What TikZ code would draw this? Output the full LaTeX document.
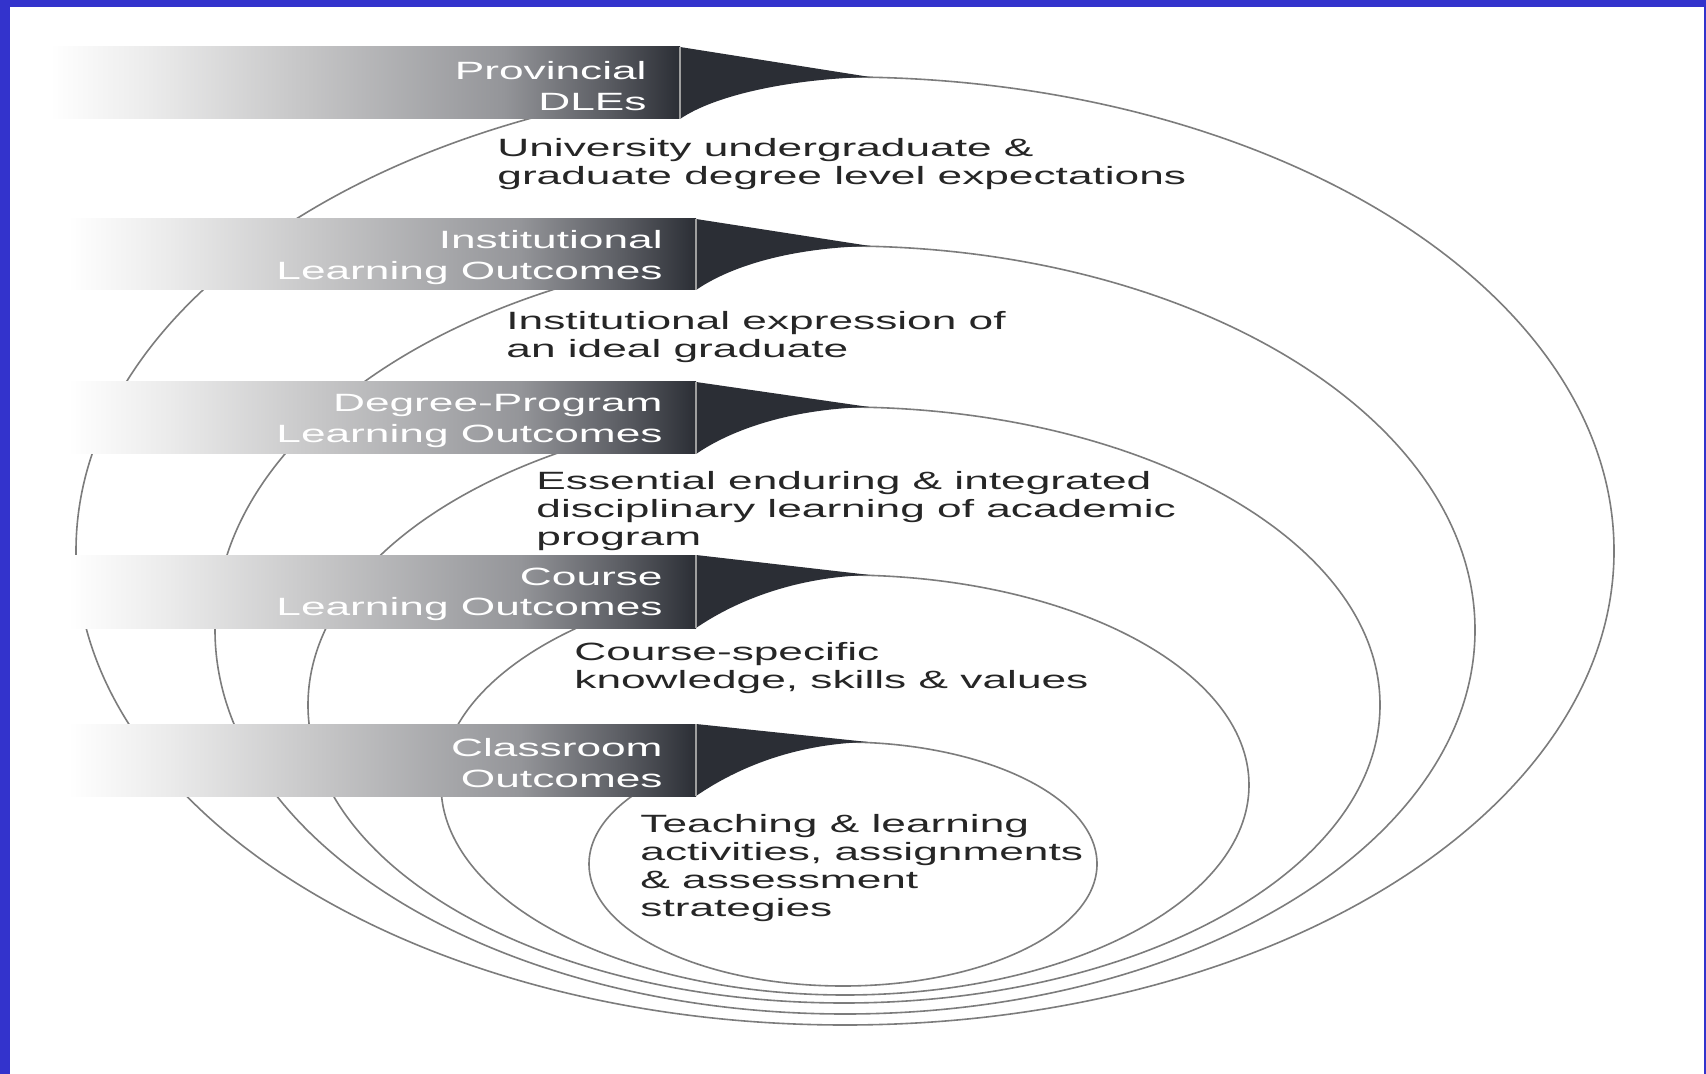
\documentclass[tikz,border=0pt]{standalone}
\usepackage{fontspec}
\usepackage{tikz}

\newfontfamily\widesans{Liberation Sans}[FakeStretch=1.77]
\definecolor{framecol}{HTML}{3333CC}
\definecolor{ringcol}{HTML}{7C7C7C}
\definecolor{notecol}{HTML}{262626}
\definecolor{fadeA}{HTML}{EBEBEB}
\definecolor{fadeB}{HTML}{C6C6C7}
\definecolor{fadeC}{HTML}{949599}
\definecolor{fadeD}{HTML}{5C5E64}
\definecolor{bannerdark}{HTML}{2B2E35}
\pgfdeclarehorizontalshading{bannerfade}{100bp}{color(0bp)=(white); color(25bp)=(white);
  color(33bp)=(fadeA); color(45bp)=(fadeB); color(61bp)=(fadeC); color(69bp)=(fadeD);
  color(75bp)=(bannerdark); color(100bp)=(bannerdark)}

\begin{document}
\begin{tikzpicture}[x=0.5pt,y=-0.5pt,
    ring/.style={draw=ringcol,line width=0.8pt},
    banner/.style={shade,shading=bannerfade,inner sep=0pt,outer sep=0pt,anchor=north west},
    tail/.style={fill=bannerdark},
    divider/.style={draw=gray!75,line width=0.7pt},
    bannertext/.style={anchor=east,align=right,inner sep=0pt,text=white,
      font=\widesans\fontsize{12.5}{15.3}\selectfont},
    note/.style={anchor=north west,align=left,inner sep=0pt,text=notecol,
      font=\widesans\fontsize{12.5}{14}\selectfont}]
  \useasboundingbox (0,0) rectangle (1706,1074);
  % frame
  \fill[framecol] (0,0) rectangle (1706,1074);
  \fill[white] (10,7) rectangle (1704,1074);

  % nested rings, outermost first
  \foreach \n/\cx/\cy/\rx/\ry in {1/845/551/769/474, 2/845/630/630/384,
      3/844/705/536/298, 4/845/785/404/210, 5/843/864/254/122}{
    \coordinate (c\n) at (\cx,\cy);
    \coordinate (tip\n) at (\cx+25,\cy-\ry);
    \draw[ring] (c\n) ellipse [x radius={\rx*0.5pt}, y radius={\ry*0.5pt}];
  }

  % banners with their tails
  \foreach \n/\l/\r/\t/\b/\txt in {1/50/680/47/119/{Provincial\\DLEs},
      2/68/696/219/290/{Institutional\\Learning Outcomes},
      3/68/696/382/454/{Degree-Program\\Learning Outcomes},
      4/68/696/555/628/{Course\\Learning Outcomes},
      5/68/696/724/796/{Classroom\\Outcomes}}{
    \node[banner,minimum width={(\r-\l)*0.5pt},minimum height={(\b-\t)*0.5pt}] (b\n) at (\l,\t) {};
    \fill[tail] (b\n.north east) -- (tip\n) .. controls +(-80,2) and +(35,-24) .. (b\n.south east) -- cycle;
    \draw[divider] (b\n.north east) -- (b\n.south east);
    \node[bannertext] (bt\n) at ([xshift=-16.5pt,yshift=-1.5pt]b\n.east) {\txt};
  }

  \node[note] (u1) at (497,138) {University undergraduate \&\\graduate degree level expectations};
  \node[note] (u2) at (506,311) {Institutional expression of\\an ideal graduate};
  \node[note] (u3) at (536,471) {Essential enduring \& integrated\\disciplinary learning of academic\\program};
  \node[note] (u4) at (574,642) {Course-specific\\knowledge, skills \& values};
  \node[note] (u5) at (640,814) {Teaching \& learning\\activities, assignments\\\& assessment\\strategies};
\end{tikzpicture}
\end{document}
